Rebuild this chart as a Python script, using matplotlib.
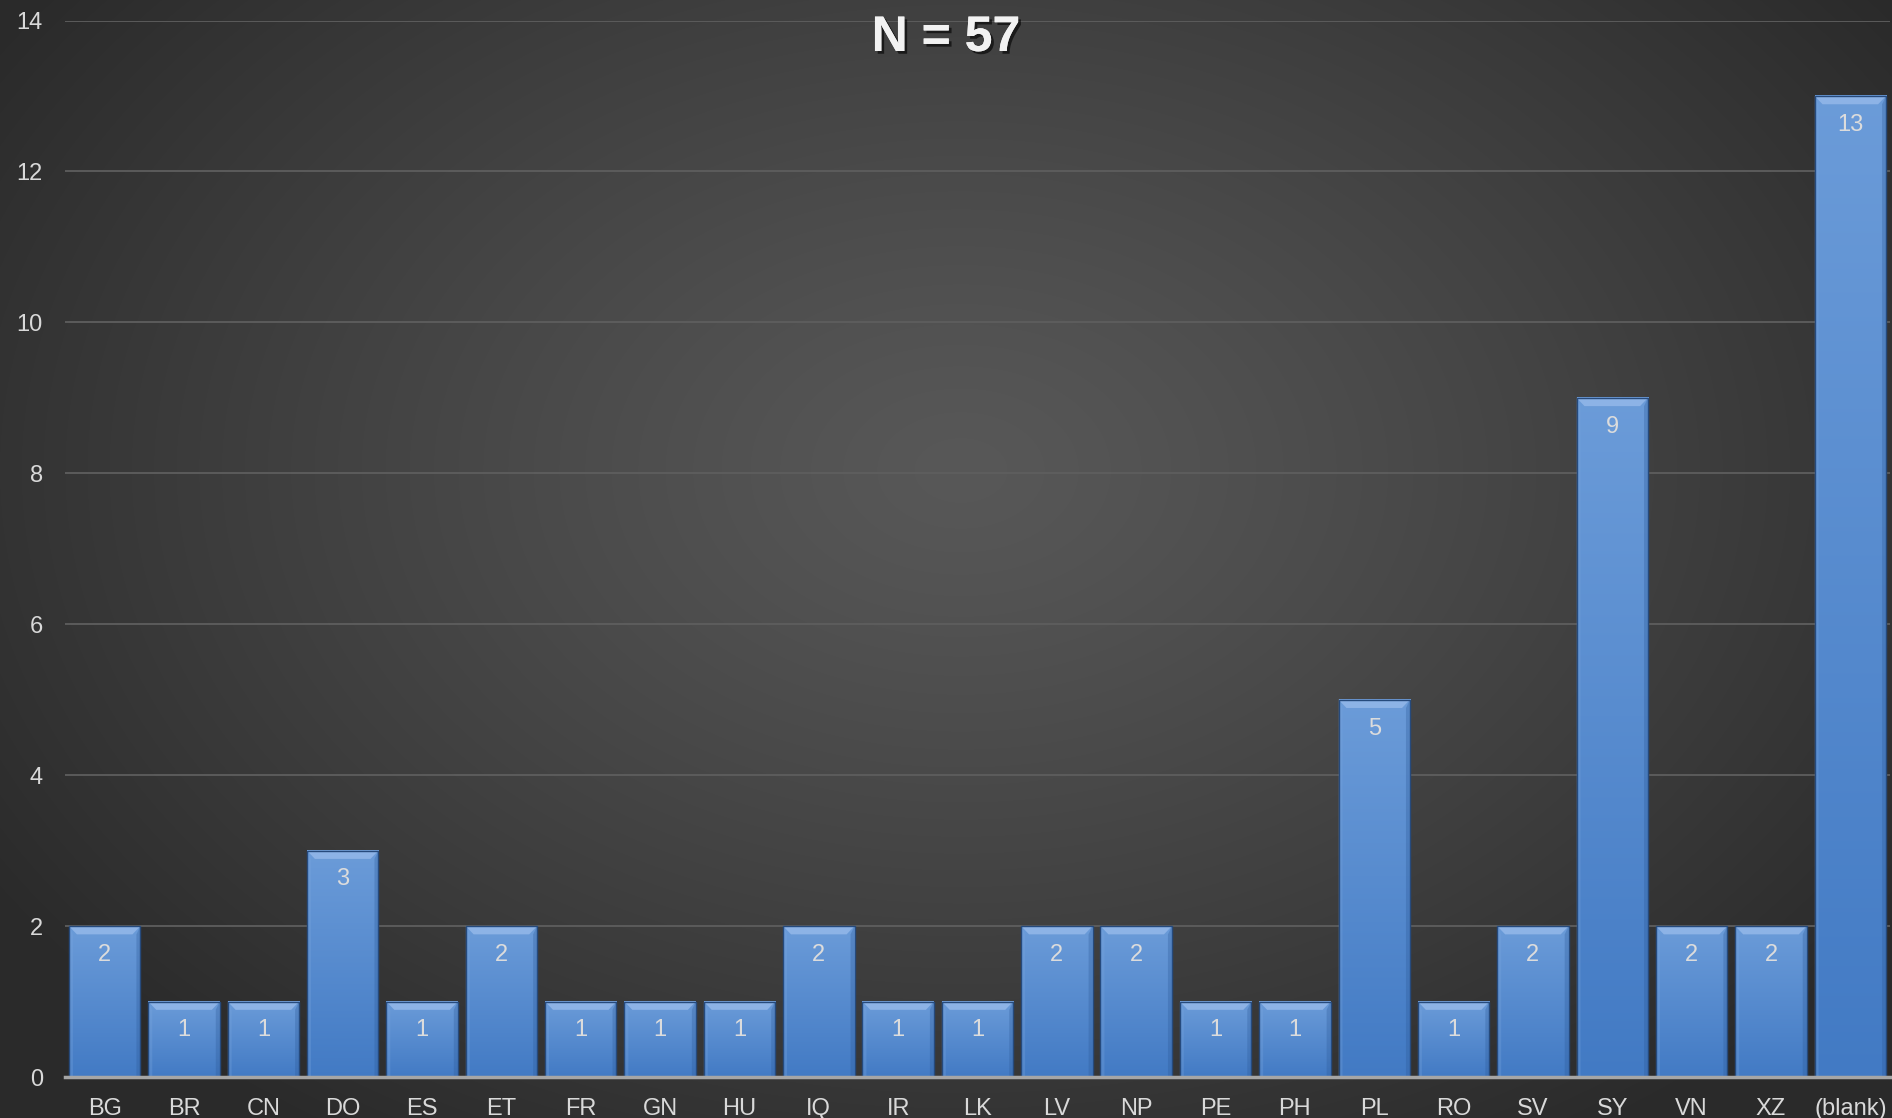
import matplotlib
matplotlib.use("Agg")
import matplotlib.pyplot as plt
from matplotlib.patches import Polygon
import matplotlib.patheffects as pe
import numpy as np

plt.rcParams['font.family'] = ['Liberation Sans', 'DejaVu Sans']

# data
countries = ["BG", "BR", "CN", "DO", "ES", "ET", "FR", "GN", "HU", "IQ", "IR", "LK",
             "LV", "NP", "PE", "PH", "PL", "RO", "SV", "SY", "VN", "XZ", "(blank)"]
counts = [2, 1, 1, 3, 1, 2, 1, 1, 1, 2, 1, 1, 2, 2, 1, 1, 5, 1, 2, 9, 2, 2, 13]
title_text = "N = 57"
yticks = [0, 2, 4, 6, 8, 10, 12, 14]

W, H = 1892, 1118
fig = plt.figure(figsize=(W / 100, H / 100), dpi=100)

# radial grey background
bg = fig.add_axes([0, 0, 1, 1], zorder=-10)
yy, xx = np.mgrid[0:H, 0:W]
r = np.sqrt(((xx - 960) / 1150.0) ** 2 + ((yy - 470) / 800.0) ** 2)
r = np.clip(r, 0, 1)
shade = 0.345 - (0.345 - 0.165) * r ** 1.2
bg.imshow(np.dstack([shade] * 3), aspect='auto', extent=(0, 1, 0, 1))
bg.set_axis_off()

ax = fig.add_axes([65 / W, 41 / H, 1825 / W, (1077 - 20.5) / H])
ax.set_facecolor('none')

x = np.arange(len(countries))
width = 0.9
bars = ax.bar(x, counts, width=width, color='#4f86c8', edgecolor='none', zorder=3)

# gradient fill + top bevel
grad = np.linspace(0, 1, 100)[:, None]
top_col = np.array([0.42, 0.61, 0.85])
bot_col = np.array([0.26, 0.48, 0.77])
img = top_col * (1 - grad[..., None]) + bot_col * grad[..., None]
bev_h = 0.11
bev_w = 0.10
for b, v in zip(bars, counts):
    x0 = b.get_x()
    x1 = x0 + b.get_width()
    ax.imshow(img, aspect='auto', extent=(x0, x1, 0, v), zorder=3.5,
              interpolation='bilinear')
    ax.add_patch(Polygon([(x0, v), (x1, v), (x1 - bev_w, v - bev_h), (x0 + bev_w, v - bev_h)],
                         closed=True, facecolor='#8db3e6', edgecolor='none', zorder=4))
    ax.add_patch(Polygon([(x0, v), (x0 + 0.05, v - bev_h), (x0 + 0.05, 0), (x0, 0)],
                         closed=True, facecolor='#7aa6de', edgecolor='none', alpha=0.3, zorder=4))
    ax.add_patch(Polygon([(x1, v), (x1 - 0.05, v - bev_h), (x1 - 0.05, 0), (x1, 0)],
                         closed=True, facecolor='#2b5896', edgecolor='none', alpha=0.3, zorder=4))
    ax.add_patch(Polygon([(x0, 0), (x1, 0), (x1, v), (x0, v)], closed=True,
                         facecolor='none', edgecolor='#264a7c', linewidth=1.0, zorder=4.5))
    ax.annotate(str(v), (b.get_x() + b.get_width() / 2, v), xytext=(0, -19),
                textcoords='offset points', ha='center', va='center_baseline',
                fontsize=17, color='#dcdcdc', zorder=5)

ax.set_xlim(-0.5, len(countries) - 0.5)
ax.set_ylim(0, 14)
ax.set_yticks(yticks)
ax.set_xticks(x)
ax.set_xticklabels(countries)
ax.tick_params(axis='both', length=0, labelsize=17, colors='#d9d9d9')
ax.tick_params(axis='x', pad=15)
ax.tick_params(axis='y', pad=16)
ax.grid(axis='y', color='#5e5e5e', linewidth=1.3, zorder=0)
ax.set_axisbelow(True)
for s in ['top', 'right', 'left']:
    ax.spines[s].set_visible(False)
ax.spines['bottom'].set_color('#a6a6a6')
ax.spines['bottom'].set_linewidth(2.5)
ax.spines['bottom'].set_zorder(6)

fig.text(0.5, 1 - 33 / H, title_text, ha='center', va='center_baseline', fontsize=36,
         fontweight='bold', color='#f2f2f2',
         path_effects=[pe.withSimplePatchShadow(offset=(2, -2), shadow_rgbFace='black', alpha=0.6),
                       pe.Normal()])

fig.savefig("out.png", dpi=100)
